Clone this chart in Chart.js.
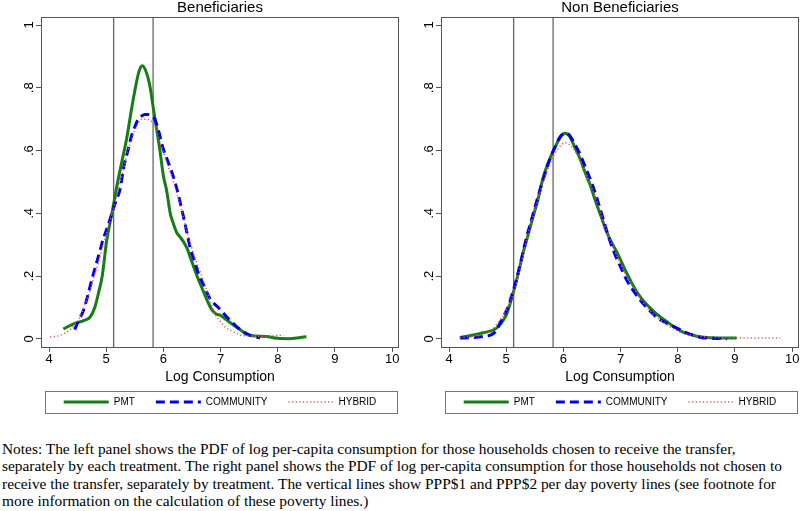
<!DOCTYPE html>
<html>
<head>
<meta charset="utf-8">
<script src="https://cdn.jsdelivr.net/npm/chart.js@4.4.0/dist/chart.umd.min.js"></script>
<style>
  body { margin: 0; background: #fff; width: 800px; height: 511px; position: relative; overflow: hidden; }
  canvas { position: absolute; top: 0; }
  #notes { position: absolute; left: 2px; top: 440px; font: 15.4px 'Liberation Serif', 'Times New Roman', serif; line-height: 17.3px; white-space: nowrap; color: #000; }
</style>
</head>
<body>
<canvas id="left" width="400" height="420" style="left:0"></canvas>
<canvas id="right" width="400" height="420" style="left:400px"></canvas>
<div id="notes">Notes: The left panel shows the PDF of log per-capita consumption for those households chosen to receive the transfer,<br>separately by each treatment. The right panel shows the PDF of log per-capita consumption for those households not chosen to<br>receive the transfer, separately by treatment. The vertical lines show PPP$1 and PPP$2 per day poverty lines (see footnote for<br>more information on the calculation of these poverty lines.)</div>
<script>
// axis ticks
var xTicks = [4, 5, 6, 7, 8, 9, 10];
var yTicks = [0, 0.2, 0.4, 0.6, 0.8, 1];
var yTickLabels = ['0', '.2', '.4', '.6', '.8', '1'];
var povertyLines = [5.13, 5.82];
var seriesNames = ['PMT', 'COMMUNITY', 'HYBRID'];

// Beneficiaries
var benPmtX = [4.25, 4.45, 4.6, 4.72, 4.8, 4.87, 4.93, 5.01, 5.1, 5.19, 5.28, 5.36, 5.45, 5.5, 5.57, 5.63, 5.71, 5.77, 5.82, 5.88, 5.94, 6.0, 6.06, 6.12, 6.17, 6.23, 6.29, 6.35, 6.41, 6.5, 6.59, 6.68, 6.76, 6.84, 6.92, 7.0, 7.11, 7.22, 7.34, 7.45, 7.55, 7.8, 8.0, 8.2, 8.4, 8.5];
var benPmtY = [0.032, 0.05, 0.058, 0.07, 0.1, 0.15, 0.2, 0.315, 0.4, 0.49, 0.57, 0.64, 0.74, 0.79, 0.85, 0.87, 0.845, 0.8, 0.74, 0.67, 0.6, 0.52, 0.47, 0.4, 0.37, 0.34, 0.325, 0.31, 0.29, 0.245, 0.2, 0.16, 0.125, 0.095, 0.08, 0.075, 0.06, 0.045, 0.03, 0.015, 0.01, 0.008, 0.002, 0.001, 0.005, 0.007];
var benComX = [4.45, 4.52, 4.6, 4.68, 4.75, 4.82, 4.89, 4.95, 5.01, 5.1, 5.17, 5.24, 5.31, 5.38, 5.44, 5.5, 5.56, 5.62, 5.68, 5.73, 5.79, 5.85, 5.92, 5.99, 6.07, 6.15, 6.24, 6.3, 6.35, 6.41, 6.47, 6.54, 6.61, 6.71, 6.81, 6.96, 7.11, 7.22, 7.34, 7.48, 7.6, 7.69];
var benComY = [0.03, 0.06, 0.09, 0.14, 0.19, 0.235, 0.28, 0.32, 0.35, 0.4, 0.44, 0.475, 0.55, 0.6, 0.645, 0.675, 0.7, 0.71, 0.715, 0.715, 0.71, 0.7, 0.66, 0.61, 0.57, 0.53, 0.475, 0.43, 0.39, 0.34, 0.29, 0.25, 0.21, 0.17, 0.13, 0.1, 0.07, 0.05, 0.03, 0.015, 0.007, 0.003];
var benHybX = [4.02, 4.2, 4.37, 4.45, 4.54, 4.63, 4.72, 4.79, 4.86, 4.93, 5.01, 5.08, 5.15, 5.22, 5.3, 5.38, 5.46, 5.54, 5.62, 5.7, 5.78, 5.85, 5.92, 6.0, 6.08, 6.16, 6.24, 6.32, 6.4, 6.48, 6.56, 6.65, 6.74, 6.82, 6.9, 7.0, 7.1, 7.2, 7.34, 7.5, 7.7, 7.9, 8.1];
var benHybY = [0.006, 0.012, 0.03, 0.045, 0.07, 0.11, 0.155, 0.2, 0.24, 0.29, 0.34, 0.385, 0.43, 0.48, 0.54, 0.6, 0.645, 0.68, 0.7, 0.7, 0.695, 0.68, 0.64, 0.595, 0.55, 0.51, 0.46, 0.41, 0.35, 0.3, 0.255, 0.21, 0.165, 0.12, 0.08, 0.055, 0.035, 0.025, 0.013, 0.01, 0.008, 0.01, 0.013];

// Non Beneficiaries
var nonPmtX = [4.19, 4.4, 4.55, 4.72, 4.82, 4.89, 4.95, 5.01, 5.08, 5.15, 5.22, 5.29, 5.38, 5.47, 5.55, 5.64, 5.72, 5.8, 5.88, 5.95, 6.03, 6.11, 6.2, 6.29, 6.38, 6.47, 6.56, 6.66, 6.76, 6.85, 6.94, 7.08, 7.22, 7.36, 7.51, 7.66, 7.81, 7.95, 8.09, 8.25, 8.39, 8.6, 8.8, 9.03];
var nonPmtY = [0.005, 0.012, 0.018, 0.025, 0.033, 0.045, 0.06, 0.08, 0.12, 0.165, 0.215, 0.27, 0.33, 0.39, 0.44, 0.51, 0.555, 0.59, 0.62, 0.645, 0.655, 0.645, 0.61, 0.575, 0.53, 0.49, 0.44, 0.39, 0.34, 0.305, 0.275, 0.22, 0.17, 0.13, 0.1, 0.075, 0.055, 0.037, 0.022, 0.013, 0.007, 0.004, 0.003, 0.003];
var nonComX = [4.19, 4.45, 4.6, 4.72, 4.82, 4.89, 4.96, 5.03, 5.1, 5.18, 5.26, 5.35, 5.45, 5.55, 5.65, 5.75, 5.85, 5.95, 6.03, 6.1, 6.2, 6.3, 6.4, 6.5, 6.6, 6.7, 6.8, 6.9, 7.0, 7.1, 7.22, 7.36, 7.51, 7.66, 7.81, 7.95, 8.09, 8.25, 8.4, 8.6, 8.86];
var nonComY = [0.003, 0.005, 0.008, 0.012, 0.025, 0.05, 0.075, 0.1, 0.14, 0.19, 0.25, 0.32, 0.385, 0.45, 0.51, 0.565, 0.61, 0.645, 0.655, 0.65, 0.62, 0.585, 0.54, 0.495, 0.44, 0.38, 0.32, 0.27, 0.23, 0.19, 0.155, 0.12, 0.09, 0.065, 0.05, 0.038, 0.025, 0.013, 0.005, 0.002, 0.001];
var nonHybX = [4.19, 4.5, 4.66, 4.75, 4.85, 4.95, 5.05, 5.15, 5.25, 5.35, 5.45, 5.55, 5.65, 5.75, 5.85, 5.95, 6.03, 6.1, 6.2, 6.3, 6.4, 6.5, 6.6, 6.7, 6.8, 6.9, 7.0, 7.1, 7.22, 7.36, 7.51, 7.66, 7.81, 7.95, 8.09, 8.25, 8.4, 8.6, 8.9, 9.2, 9.5, 9.79];
var nonHybY = [0.004, 0.01, 0.02, 0.03, 0.05, 0.075, 0.11, 0.16, 0.23, 0.31, 0.38, 0.44, 0.5, 0.55, 0.59, 0.615, 0.625, 0.62, 0.6, 0.565, 0.525, 0.48, 0.43, 0.375, 0.325, 0.28, 0.24, 0.2, 0.165, 0.125, 0.09, 0.065, 0.045, 0.03, 0.018, 0.012, 0.008, 0.005, 0.004, 0.003, 0.003, 0.003];

Chart.defaults.font.family = "'Liberation Sans', Arial, Helvetica, sans-serif";
Chart.defaults.color = '#000';

var LEG_PAD = 21;
var LEG_FONT = 10;

function pts(xs, ys) {
  return xs.map(function (x, i) { return { x: x, y: ys[i] }; });
}

// frame, poverty lines and legend box, Stata style
var stataBits = {
  id: 'stataBits',
  beforeDatasetsDraw: function (chart) {
    var ctx = chart.ctx, a = chart.chartArea, xs = chart.scales.x;
    ctx.save();
    ctx.strokeStyle = '#666';
    ctx.lineWidth = 1.3;
    povertyLines.forEach(function (v) {
      var px = xs.getPixelForValue(v);
      ctx.beginPath();
      ctx.moveTo(px, a.top);
      ctx.lineTo(px, a.bottom);
      ctx.stroke();
    });
    ctx.lineWidth = 1;
    ctx.strokeStyle = '#555';
    ctx.strokeRect(Math.round(a.left) + 0.5, Math.round(a.top) + 0.5, Math.round(a.right - a.left) - 1, Math.round(a.bottom - a.top));
    ctx.restore();
  },
  afterDraw: function (chart) {
    var ctx = chart.ctx, a = chart.chartArea, lg = chart.legend;
    var yc = lg.top + LEG_PAD + LEG_FONT / 2;
    ctx.save();
    ctx.strokeStyle = '#777';
    ctx.lineWidth = 1;
    ctx.strokeRect(Math.round(a.left + 4) + 0.5, Math.round(yc - 11) + 0.5, Math.round(a.right - a.left - 6), 22);
    ctx.restore();
  }
};

function makeChart(id, title, pmtX, pmtY, comX, comY, hybX, hybY) {
  return new Chart(document.getElementById(id), {
    type: 'line',
    data: {
      datasets: [{
        label: seriesNames[0],
        data: pts(pmtX, pmtY),
        borderColor: 'rgb(20,125,20)',
        borderWidth: 3,
        pointRadius: 0,
        order: 3,
        cubicInterpolationMode: 'monotone'
      }, {
        label: seriesNames[1],
        data: pts(comX, comY),
        borderColor: 'rgb(0,0,230)',
        borderWidth: 3,
        borderDash: [9, 5],
        pointRadius: 0,
        order: 2,
        cubicInterpolationMode: 'monotone'
      }, {
        label: seriesNames[2],
        data: pts(hybX, hybY),
        borderColor: 'rgb(230,85,85)',
        borderWidth: 1.5,
        borderDash: [1.2, 2.4],
        pointRadius: 0,
        order: 1,
        cubicInterpolationMode: 'monotone'
      }]
    },
    options: {
      responsive: false,
      animation: false,
      layout: { padding: { top: 0, left: 0, right: 1, bottom: 3 } },
      scales: {
        x: {
          type: 'linear',
          min: 3.86,
          max: 10.12,
          afterBuildTicks: function (s) { s.ticks = xTicks.map(function (v) { return { value: v }; }); },
          afterFit: function (s) { s.height = 29; },
          ticks: { font: { size: 13 }, padding: 0, maxRotation: 0, autoSkip: false },
          grid: { drawOnChartArea: false, tickLength: 5, color: '#555' },
          border: { display: false },
          title: { display: true, text: 'Log Consumption', font: { size: 14 }, padding: { top: 0, bottom: -9.4 } }
        },
        y: {
          min: -0.0255,
          max: 1.0255,
          afterBuildTicks: function (s) { s.ticks = yTicks.map(function (v) { return { value: v }; }); },
          afterFit: function (s) { s.width = 41; },
          ticks: {
            font: { size: 13 },
            padding: 1,
            minRotation: 90,
            maxRotation: 90,
            crossAlign: 'center',
            autoSkip: false,
            callback: function (v, i) { return yTickLabels[i]; }
          },
          grid: { drawOnChartArea: false, tickLength: 5, color: '#555' },
          border: { display: false }
        }
      },
      plugins: {
        title: {
          display: true,
          text: title,
          fullSize: false,
          font: { size: 15, weight: 'normal', lineHeight: 1 },
          padding: { top: 0, bottom: 2 }
        },
        legend: {
          position: 'bottom',
          fullSize: false,
          labels: {
            usePointStyle: true,
            pointStyle: 'line',
            pointStyleWidth: 45,
            font: { size: LEG_FONT },
            padding: LEG_PAD,
            sort: function (a, b) { return a.datasetIndex - b.datasetIndex; },
            generateLabels: function (chart) {
              var items = Chart.defaults.plugins.legend.labels.generateLabels(chart);
              items.forEach(function (it) {
                var ds = chart.data.datasets[it.datasetIndex];
                it.lineDash = ds.borderDash || [];
                it.lineWidth = ds.borderWidth;
                it.strokeStyle = ds.borderColor;
              });
              return items;
            }
          }
        },
        tooltip: { enabled: false }
      }
    },
    plugins: [stataBits]
  });
}

makeChart('left', 'Beneficiaries', benPmtX, benPmtY, benComX, benComY, benHybX, benHybY);
makeChart('right', 'Non Beneficiaries', nonPmtX, nonPmtY, nonComX, nonComY, nonHybX, nonHybY);
</script>
</body>
</html>
